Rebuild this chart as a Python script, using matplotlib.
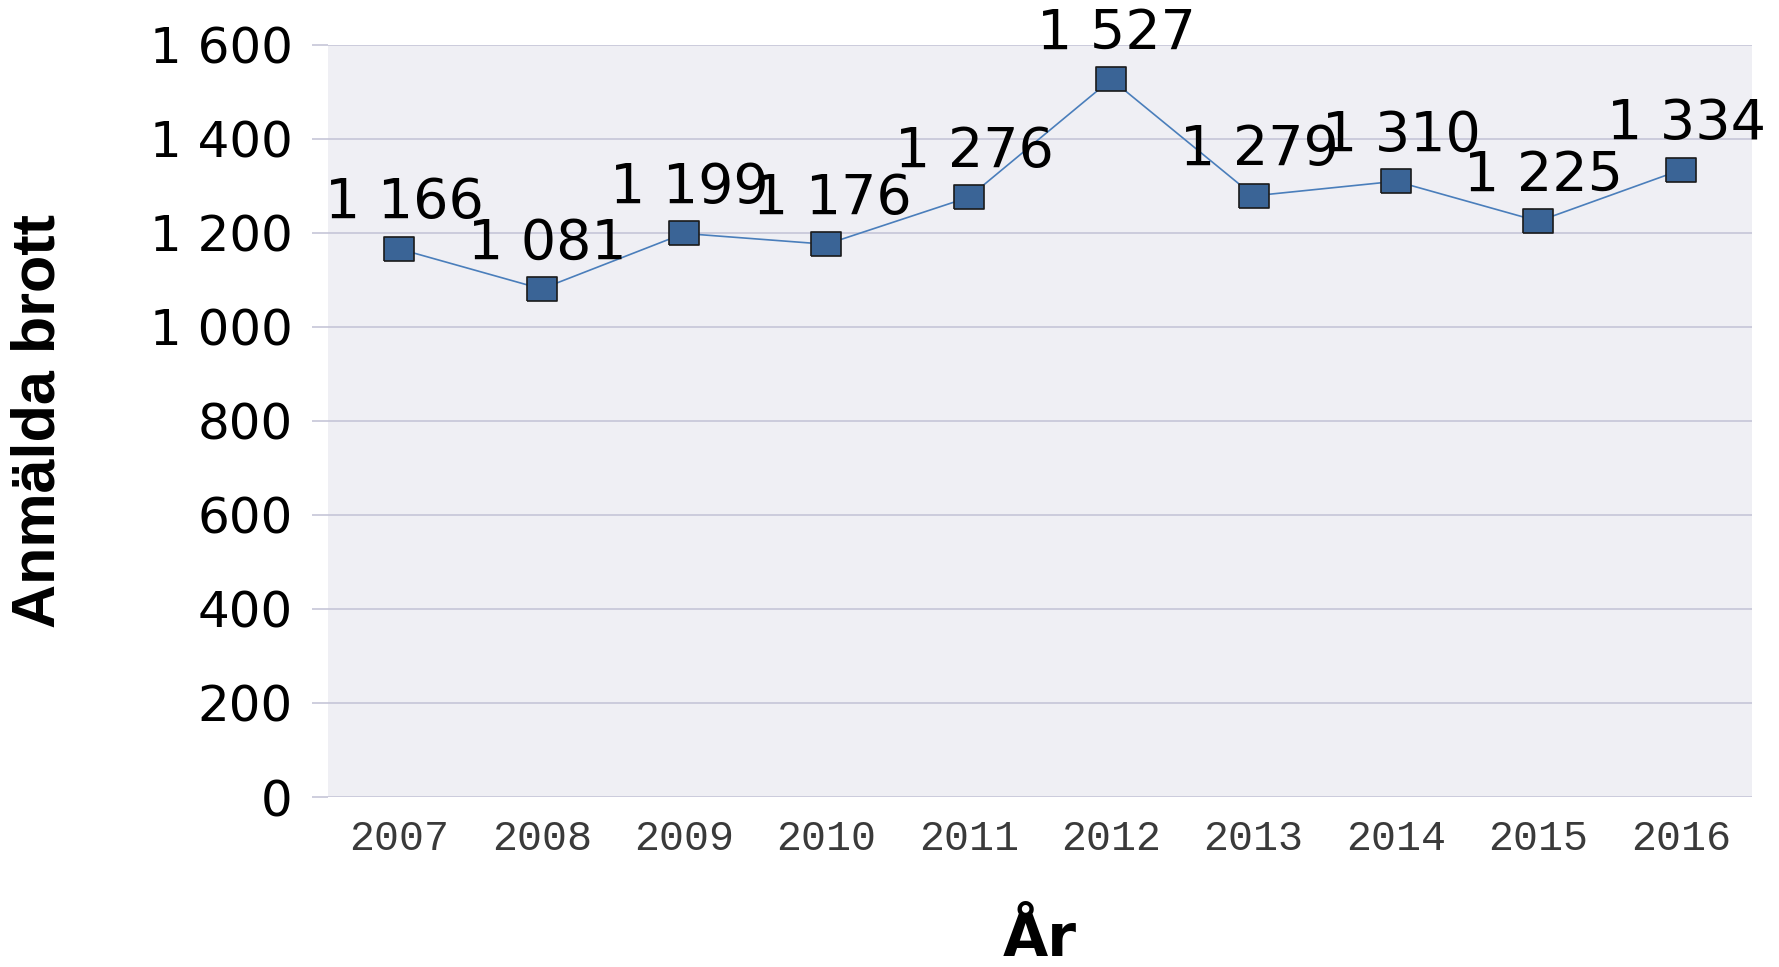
import matplotlib.pyplot as plt
from matplotlib.ticker import FuncFormatter, MultipleLocator

# data
years = ['2007', '2008', '2009', '2010', '2011', '2012', '2013', '2014', '2015', '2016']
reported = [1166, 1081, 1199, 1176, 1276, 1527, 1279, 1310, 1225, 1334]

bg_color = '#efeff4'
grid_color = '#c6c6d8'
line_color = '#4a7ebb'
marker_color = '#3a6496'

def spaced(v, pos=None):
    # swedish style thousands separator
    return '{:,}'.format(int(v)).replace(',', ' ')

fig = plt.figure(figsize=(17.79, 9.67), dpi=100)
ax = fig.add_axes([0.1844, 0.1758, 0.8004, 0.7777])
ax.set_facecolor(bg_color)

# slightly wide box marker, like the original
box = [(-0.65, -0.5), (0.65, -0.5), (0.65, 0.5), (-0.65, 0.5), (-0.65, -0.5)]
x = list(range(len(years)))
ax.plot(x, reported, color=line_color, lw=1.2, zorder=3)
ax.plot(x, reported, ls='none', marker=box, markersize=21.6,
        markerfacecolor=marker_color, markeredgecolor='#1a1a1a',
        markeredgewidth=1.2, zorder=4)

for xi, v in zip(x, reported):
    ax.annotate(spaced(v), (xi, v), xytext=(4, 22), textcoords='offset points',
                ha='center', va='baseline', fontsize=40, color='black',
                family='DejaVu Sans', zorder=5)

ax.set_xlim(-0.5, len(years) - 0.5)
ax.set_ylim(0, 1600)
ax.yaxis.set_major_locator(MultipleLocator(200))
ax.yaxis.set_major_formatter(FuncFormatter(spaced))
ax.set_xticks(x)
ax.set_xticklabels(years, family='Liberation Mono', fontsize=30, color='#3a3a3a')

ax.grid(axis='y', color=grid_color, lw=1.2, zorder=0)
ax.set_axisbelow(True)
for s in ax.spines.values():
    s.set_visible(False)

ax.tick_params(axis='y', length=11.5, width=1.2, color=grid_color, pad=14,
               labelsize=36)
ax.tick_params(axis='x', length=0, pad=16)

ax.set_ylabel('Anmälda brott', family='Liberation Sans',
              fontweight='bold', fontsize=44)
ax.yaxis.set_label_coords(-0.183, 0.5)
ax.set_xlabel('År', family='DejaVu Sans', fontweight='bold', fontsize=42)
ax.xaxis.set_label_coords(0.5, -0.151)

fig.savefig('out.png', dpi=100)
